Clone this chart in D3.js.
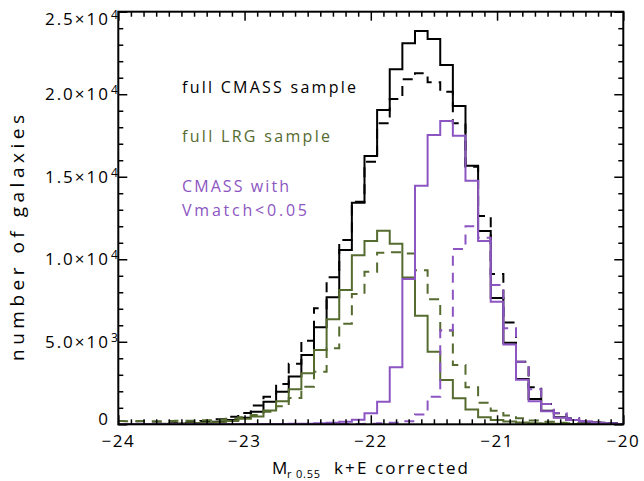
<!DOCTYPE html>
<html><head><meta charset="utf-8">
<script src="https://cdn.jsdelivr.net/npm/d3@7/dist/d3.min.js"></script>
<style>body{margin:0;background:#fff}svg{display:block}text{font-family:"Open Sans","DejaVu Sans",sans-serif;font-weight:400}</style>
</head><body>
<svg id="c" width="644" height="481"></svg>
<script>
// ---- data (bin centres in M_r, counts per 0.1 mag bin) ----
const binCenters = [-24.0,-23.9,-23.8,-23.7,-23.6,-23.5,-23.4,-23.3,-23.2,-23.1,
  -23.0,-22.9,-22.8,-22.7,-22.6,-22.5,-22.4,-22.3,-22.2,-22.1,
  -22.0,-21.9,-21.8,-21.7,-21.6,-21.5,-21.4,-21.3,-21.2,-21.1,
  -21.0,-20.9,-20.8,-20.7,-20.6,-20.5,-20.4,-20.3,-20.2,-20.1,-20.0];
const cmassSolid = [5,8,12,18,25,40,60,100,160,260,
  400,763,1369,1975,2900,4199,5877,7695,10561,13427,
  16256,19043,21510,23085,23830,23345,21770,19285,15670,11712,
  7650,4944,2745,1533,824,424,260,157,100,50,25];
const cmassDashed = [20,25,35,50,70,100,140,200,300,450,
  690,1140,1673,2440,3670,5066,7028,8907,11167,13487,
  15911,18238,19710,20900,21265,20720,20152,18238,15600,12621,
  9107,6170,3793,2242,1230,666,363,200,110,60,30];
const lrgSolid = [10,12,15,20,30,45,65,90,130,200,
  330,480,840,1390,2130,3090,4502,6362,8137,10240,
  11100,11720,10940,8900,6570,4400,2684,1575,900,420,
  260,170,110,70,45,30,20,12,8,5,3];
const lrgDashed = [200,190,200,190,200,210,220,240,280,340,
  430,560,760,1100,1600,2279,3190,4605,6100,7900,
  9250,10400,10420,10350,9330,7580,5690,3593,2242,1309,
  824,540,363,230,150,100,70,50,30,20,10];
const vmSolid = [2,2,2,2,3,3,4,5,6,8,
  10,12,15,20,30,40,60,90,150,280,
  666,1369,3450,8800,14460,17530,18377,17490,14760,11100,
  7430,4835,2700,1400,790,400,260,170,100,50,20];
const vmDashed = [0,0,0,0,0,0,1,1,2,2,
  3,4,5,6,8,10,12,15,15,25,
  40,60,90,180,600,1670,5700,10620,12000,11300,
  8440,5815,3793,2121,1230,680,363,200,100,50,20];

const xTicks = [-24,-23,-22,-21,-20];
const xTickLabels = ["\u221224","\u221223","\u221222","\u221221","\u221220"];
const yTicks = [0,5000,10000,15000,20000,25000];
const yTickMant = ["0","5.0\u00d710","1.0\u00d710","1.5\u00d710","2.0\u00d710","2.5\u00d710"];
const yTickExp  = ["","3","4","4","4","4"];
const legendLabels = ["full CMASS sample","full LRG sample","CMASS with","Vmatch<0.05"];

// ---- layout ----
const L=118.3,R=623.3,T=11.7,B=424.3;
const svg=d3.select("#c");
const x=d3.scaleLinear().domain([-24,-20]).range([L,R]);
const y=d3.scaleLinear().domain([0,25000]).range([B,T]);
const black="#000000", green="#556b2f", purple="#8c55c2";

svg.append("clipPath").attr("id","clip").append("rect")
  .attr("x",L).attr("y",T).attr("width",R-L).attr("height",B-T);

const line=d3.line().x(d=>x(d[0])).y(d=>y(d[1])).curve(d3.curveStep);
const series=[
  {v:cmassSolid,c:black,dash:null},
  {v:cmassDashed,c:black,dash:"10,7"},
  {v:lrgSolid,c:green,dash:null},
  {v:lrgDashed,c:green,dash:"10,7"},
  {v:vmSolid,c:purple,dash:null},
  {v:vmDashed,c:purple,dash:"10,7"}
];
const g=svg.append("g").attr("clip-path","url(#clip)");
series.forEach(s=>{
  g.append("path").datum(binCenters.map((b,i)=>[b,s.v[i]]))
   .attr("d",line).attr("fill","none").attr("stroke",s.c)
   .attr("stroke-width",2).attr("stroke-dasharray",s.dash);
});

// ---- axes (inward ticks) ----
const minorX=d3.range(-24,-20.0001,0.1).map(v=>+v.toFixed(1)).filter(v=>!xTicks.includes(v));
const minorY=d3.range(0,25001,1000).filter(v=>!yTicks.includes(v));
function ax(gen,tr,vals,len){
  const a=svg.append("g").attr("transform",tr)
    .call(gen.tickValues(vals).tickSize(-len).tickFormat(""));
  a.select(".domain").remove();
  a.selectAll("line").attr("stroke","#000").attr("stroke-width",1.5);
}
ax(d3.axisBottom(x),`translate(0,${B})`,xTicks,9);
ax(d3.axisBottom(x),`translate(0,${B})`,minorX,5);
ax(d3.axisTop(x),`translate(0,${T})`,xTicks,9);
ax(d3.axisTop(x),`translate(0,${T})`,minorX,5);
ax(d3.axisLeft(y),`translate(${L},0)`,yTicks,9);
ax(d3.axisLeft(y),`translate(${L},0)`,minorY,5);
ax(d3.axisRight(y),`translate(${R},0)`,yTicks,9);
ax(d3.axisRight(y),`translate(${R},0)`,minorY,5);
svg.append("rect").attr("x",L).attr("y",T).attr("width",R-L).attr("height",B-T)
  .attr("fill","none").attr("stroke","#000").attr("stroke-width",2);

// tick labels
xTicks.forEach((v,i)=>{
  svg.append("text").attr("x",x(v)).attr("y",447).attr("text-anchor","middle")
    .attr("font-size",17).attr("letter-spacing",1.5).text(xTickLabels[i]);
});
yTicks.forEach((v,i)=>{
  const by=Math.min(425,Math.max(25,y(v)+6));
  svg.append("text").attr("x",110).attr("y",by).attr("text-anchor","end")
    .attr("font-size",17).attr("letter-spacing",2).text(yTickMant[i]);
  if(yTickExp[i]) svg.append("text").attr("x",111).attr("y",by-6)
    .attr("font-size",12).text(yTickExp[i]);
});

// axis titles
svg.append("text").attr("transform","translate(24,238) rotate(-90)")
  .attr("text-anchor","middle").attr("font-size",19)
  .attr("textLength",246).attr("lengthAdjust","spacing").text("number of galaxies");
svg.append("text").attr("x",272).attr("y",474).attr("font-size",17).text("M");
svg.append("text").attr("x",287).attr("y",478).attr("font-size",11).attr("letter-spacing",0.8).text("r 0.55");
svg.append("text").attr("x",334).attr("y",474).attr("font-size",17)
  .attr("textLength",134).attr("lengthAdjust","spacing").text("k+E corrected");

// legend text
const legY=[93,142,192,216], legW=[174,148,107,125], legC=[black,green,purple,purple];
legendLabels.forEach((t,i)=>{
  svg.append("text").attr("x",182).attr("y",legY[i]).attr("font-size",16)
    .attr("fill",legC[i]).attr("textLength",legW[i]).attr("lengthAdjust","spacing").text(t);
});
</script>
</body></html>
